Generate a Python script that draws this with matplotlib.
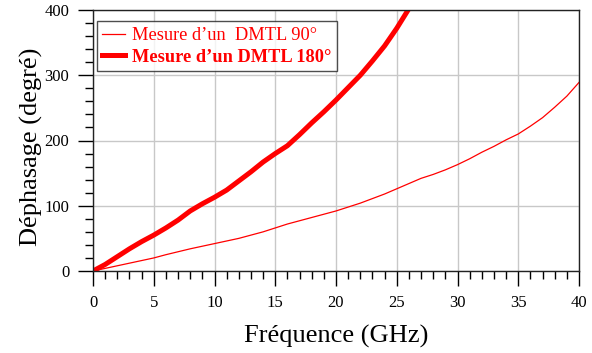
import matplotlib
matplotlib.use("Agg")
import matplotlib.pyplot as plt
from matplotlib.ticker import MultipleLocator

plt.rcParams['font.family'] = ['Liberation Serif', 'DejaVu Serif']

freq_90 = [0, 2, 4, 5, 6, 8, 10, 12, 14, 15, 16, 18, 20, 22, 24, 25, 26, 27, 28, 29, 30,
           31, 32, 33, 34, 35, 36, 37, 38, 39, 40]
phase_90 = [0, 8, 16, 20, 25, 34, 42, 50, 60, 66, 72, 82, 92, 104, 118, 126, 134, 142, 148, 155, 163,
            172, 182, 191, 201, 210, 222, 235, 251, 268, 289]

freq_180 = [0, 1, 2, 3, 4, 5, 6, 7, 8, 9, 10, 11, 12, 13, 14, 15, 16, 17, 18, 19, 20,
            21, 22, 23, 24, 25, 26]
phase_180 = [0, 10, 22, 34, 45, 55, 66, 78, 92, 103, 113, 124, 138, 152, 167, 180, 192, 209, 227, 244, 262,
             281, 300, 322, 345, 372, 402]

labels = ["Mesure d\u2019un  DMTL 90\u00b0", "Mesure d\u2019un DMTL 180\u00b0"]

fig = plt.figure(figsize=(5.92, 3.53), dpi=100)
ax = fig.add_axes([93/592, 82/353, (579-93)/592, (271-10)/353])

ax.plot(freq_90, phase_90, color='#ff0000', lw=0.9, label=labels[0])
ax.plot(freq_180, phase_180, color='#ff0000', lw=3.6, label=labels[1])

ax.set_xlim(0, 40)
ax.set_ylim(0, 400)
ax.xaxis.set_major_locator(MultipleLocator(5))
ax.xaxis.set_minor_locator(MultipleLocator(1))
ax.yaxis.set_major_locator(MultipleLocator(100))
ax.yaxis.set_minor_locator(MultipleLocator(20))
ax.tick_params(which='major', length=11, width=1, labelsize=12, direction='out')
ax.tick_params(axis='x', which='major', pad=6)
ax.tick_params(axis='y', which='major', pad=6)
ax.tick_params(which='minor', length=6, width=1, direction='out')
ax.grid(True, which='major', color='#c8c8c8', lw=1)
ax.set_axisbelow(True)
for s in ax.spines.values():
    s.set_linewidth(1)
    s.set_color('#222222')

ax.set_xlabel("Fr\u00e9quence (GHz)", fontsize=19, labelpad=10)
ax.set_ylabel("D\u00e9phasage (degr\u00e9)", fontsize=19, va='center')
ax.yaxis.set_label_coords(-0.127, 0.475)

leg = ax.legend(loc='upper left', bbox_to_anchor=(0.0, 0.97), frameon=True, fancybox=False,
                edgecolor='#222222', fontsize=13.2, handlelength=1.25, borderpad=0.3,
                labelspacing=0.25, handletextpad=0.4, borderaxespad=0.2)
leg.get_frame().set_linewidth(1)
for i, t in enumerate(leg.get_texts()):
    t.set_color('#ff0000')
    if i == 1:
        t.set_fontweight('bold')

fig.savefig("out.png", dpi=100)
